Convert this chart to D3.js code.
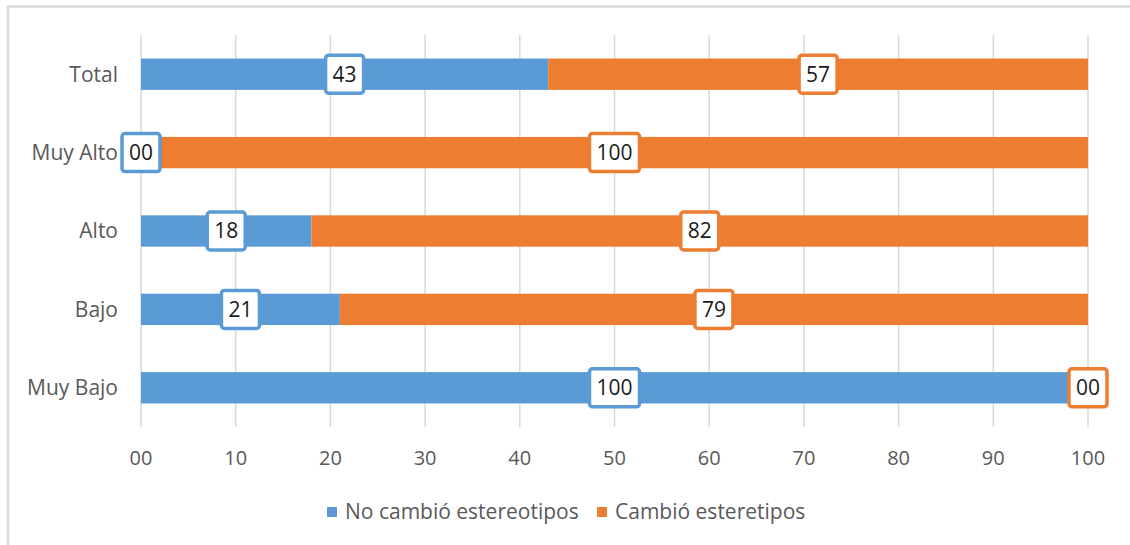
<!DOCTYPE html>
<html>
<head>
<meta charset="utf-8">
<script src="https://cdn.jsdelivr.net/npm/d3@7"></script>
<style>
  body { margin: 0; background: #fff; }
  svg { display: block; font-family: "Open Sans", Lato, sans-serif; }
</style>
</head>
<body>
<svg id="chart" width="1130" height="545"></svg>
<script>
// categories top to bottom
var categories = ["Total", "Muy Alto", "Alto", "Bajo", "Muy Bajo"];
var noCambio = [43, 0, 18, 21, 100];
var cambio = [57, 100, 82, 79, 0];
var seriesNames = ["No cambió estereotipos", "Cambió esteretipos"];
var seriesColors = ["#5b9bd5", "#ed7d31"];
var xTicks = [0, 10, 20, 30, 40, 50, 60, 70, 80, 90, 100];

var svg = d3.select("#chart"),
    width = +svg.attr("width"),
    height = +svg.attr("height");

var fmt = d3.format("02d");

// outer frame (only top and left edge are visible)
svg.append("path")
    .attr("d", "M8,545 L8,6.5 L1130,6.5")
    .attr("fill", "none")
    .attr("stroke", "#d9d9d9")
    .attr("stroke-width", 2.5);

var x = d3.scaleLinear().domain([0, 100]).range([141, 1088]);
var y = d3.scaleBand().domain(categories).range([35, 427]).paddingInner(0.6).paddingOuter(0.3);

// gridlines
svg.append("g")
    .selectAll("line")
    .data(xTicks)
    .enter().append("line")
    .attr("x1", function(d) { return x(d); })
    .attr("x2", function(d) { return x(d); })
    .attr("y1", 35)
    .attr("y2", 427)
    .attr("stroke", "#d9d9d9")
    .attr("stroke-width", 1.5);

// stacked data
var rows = categories.map(function(c, i) {
    return {cat: c, s0: noCambio[i], s1: cambio[i]};
});
var stack = d3.stack().keys(["s0", "s1"]);
var layers = stack(rows);

var bars = svg.append("g")
    .selectAll("g")
    .data(layers)
    .enter().append("g")
    .attr("fill", function(d, i) { return seriesColors[i]; });

bars.selectAll("rect")
    .data(function(d) { return d; })
    .enter().append("rect")
    .attr("x", function(d) { return x(d[0]); })
    .attr("width", function(d) { return x(d[1]) - x(d[0]); })
    .attr("y", function(d) { return y(d.data.cat); })
    .attr("height", y.bandwidth());

// x axis labels
svg.append("g")
    .selectAll("text")
    .data(xTicks)
    .enter().append("text")
    .attr("x", function(d) { return x(d); })
    .attr("y", 458)
    .attr("dy", "0.35em")
    .attr("text-anchor", "middle")
    .attr("font-size", 20)
    .attr("fill", "#595959")
    .text(function(d) { return fmt(d); });

// category labels
svg.append("g")
    .selectAll("text")
    .data(categories)
    .enter().append("text")
    .attr("x", 118)
    .attr("y", function(d) { return y(d) + y.bandwidth() / 2; })
    .attr("dy", "0.35em")
    .attr("text-anchor", "end")
    .attr("font-size", 21)
    .attr("fill", "#595959")
    .text(function(d) { return d; });

// data labels in boxes
layers.forEach(function(layer, li) {
    var g = svg.append("g");
    layer.forEach(function(d) {
        var cx = x((d[0] + d[1]) / 2),
            cy = y(d.data.cat) + y.bandwidth() / 2;
        var lab = g.append("g").attr("transform", "translate(" + cx + "," + cy + ")");
        var box = lab.append("rect");
        var t = lab.append("text")
            .attr("text-anchor", "middle")
            .attr("dy", "0.35em")
            .attr("font-size", 21)
            .attr("fill", "#1a1a1a")
            .text(fmt(d[1] - d[0]));
        var w = t.node().getComputedTextLength() + 14;
        box.attr("x", -w / 2)
            .attr("y", -19)
            .attr("width", w)
            .attr("height", 38)
            .attr("rx", 3)
            .attr("fill", "#fff")
            .attr("stroke", seriesColors[li])
            .attr("stroke-width", 3.5);
    });
});

// legend
var legendX = [327, 597];
var legend = svg.append("g")
    .selectAll("g")
    .data(seriesNames)
    .enter().append("g")
    .attr("transform", function(d, i) { return "translate(" + legendX[i] + ",512)"; });
legend.append("rect")
    .attr("x", 0)
    .attr("y", -5)
    .attr("width", 10)
    .attr("height", 10)
    .attr("fill", function(d, i) { return seriesColors[i]; });
legend.append("text")
    .attr("x", 18)
    .attr("dy", "0.35em")
    .attr("font-size", 21)
    .attr("fill", "#595959")
    .text(function(d) { return d; });
</script>
</body>
</html>
